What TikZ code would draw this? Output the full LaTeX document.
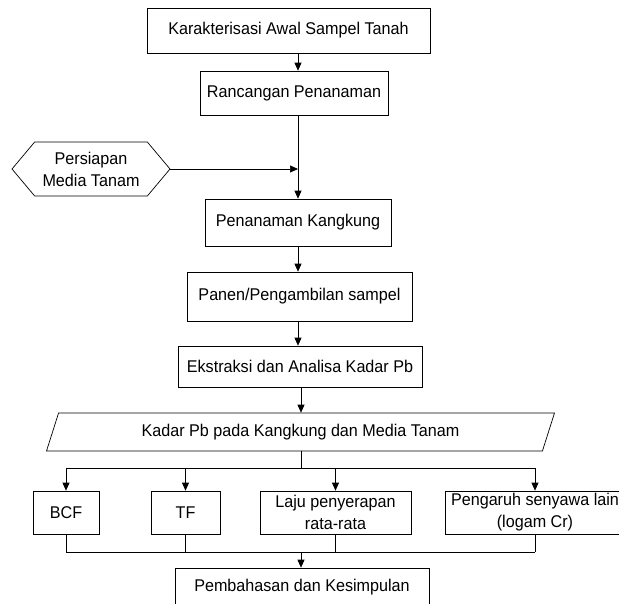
\documentclass[tikz,border=0pt]{standalone}
\usepackage{fontspec}
\setmainfont[FakeStretch=0.95]{Liberation Sans}
\usetikzlibrary{arrows.meta,shapes.geometric,shapes.symbols}
\begin{document}
\begin{tikzpicture}[x=1pt,y=-1pt,line width=0.7pt,
	every node/.style={font=\fontsize{17}{22}\selectfont, align=center, inner sep=0pt},
	box/.style={draw, rectangle},
	arr/.style={-{Triangle[width=7pt,length=8pt]}}]
\useasboundingbox (0,0) rectangle (619,603);
\coordinate (spine) at (298,0);
\coordinate (spinetwo) at (301,0);
\coordinate (split) at (0,468);
\coordinate (merge) at (0,552);
\node[box, minimum width=283pt, minimum height=45pt] (karak) at (288.5,30.5) {Karakterisasi Awal Sampel Tanah};
\node[box, minimum width=188pt, minimum height=44pt] (ranc) at (294,93) {Rancangan Penanaman};
\node[draw, signal, signal to=west and east, signal pointer angle=100,
	minimum width=158pt, minimum height=54pt] (prep) at (91,169) {Persiapan\\Media Tanam};
\node[box, minimum width=186pt, minimum height=47pt] (tanam) at (298,222.5) {Penanaman Kangkung};
\node[box, minimum width=225pt, minimum height=49pt] (panen) at (299.5,296.5) {Panen/Pengambilan sampel};
\node[box, minimum width=244pt, minimum height=41pt] (ekstr) at (300,366.5) {Ekstraksi dan Analisa Kadar Pb};
\node[draw, trapezium, trapezium left angle=63.4, trapezium right angle=116.6, trapezium stretches=true,
	minimum width=509pt, minimum height=38pt] (kadar) at (300.5,432) {Kadar Pb pada Kangkung dan Media Tanam};
\node[box, minimum width=66pt, minimum height=43pt] (bcf) at (66,512.5) {BCF};
\node[box, minimum width=69pt, minimum height=43pt] (tf) at (185.5,512.5) {TF};
\node[box, minimum width=151pt, minimum height=43pt] (laju) at (335.5,512.5) {Laju penyerapan\\rata-rata};
\node[box, minimum width=180pt, minimum height=43pt] (lain) at (535,512.5) {Pengaruh senyawa lain\\(logam Cr)};
\node[box, minimum width=254pt, minimum height=38pt] (bahas) at (302,587) {Pembahasan dan Kesimpulan};
\draw[arr] (karak.south -| spine) -- (ranc.north -| spine);
\draw[arr] (ranc.south -| spine) -- (tanam.north -| spine);
\draw[arr] (prep.east) -- (prep.east -| spine);
\draw[arr] (tanam.south -| spine) -- (panen.north -| spine);
\draw[arr] (panen.south -| spine) -- (ekstr.north -| spine);
\draw[arr] (ekstr.south -| spinetwo) -- (kadar.north -| spinetwo);
\draw (kadar.south -| spinetwo) -- (split -| spinetwo);
\draw (split -| bcf) -- (split -| lain);
\foreach \n in {bcf,tf,laju,lain}{
	\draw[arr] (split -| \n) -- (\n.north);
	\draw (\n.south) -- (merge -| \n);
}
\draw (merge -| bcf) -- (merge -| lain);
\draw[arr] (merge -| spinetwo) -- (bahas.north -| spinetwo);
\end{tikzpicture}
\end{document}
